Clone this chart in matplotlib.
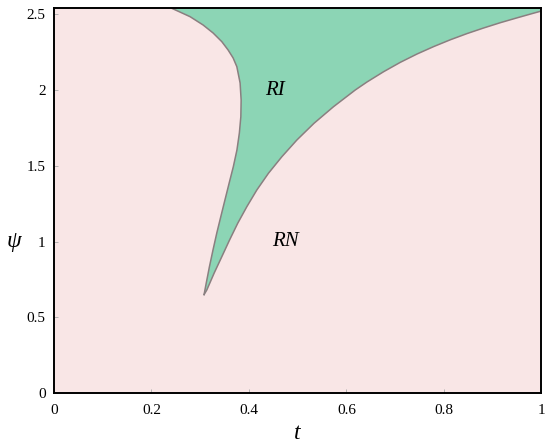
import matplotlib
matplotlib.use("Agg")
import matplotlib.pyplot as plt

# Left boundary of the RI region (from cusp upward)
left_t = [0.308, 0.3125, 0.3190, 0.3263, 0.3341, 0.3423, 0.3508, 0.3595, 0.3680, 0.3754,
          0.3804, 0.3834, 0.3840, 0.3819, 0.3752, 0.3676, 0.3573, 0.3444, 0.3265, 0.3060,
          0.2793, 0.2417]
left_psi = [0.650, 0.7266, 0.8342, 0.9445, 1.0568, 1.1645, 1.2748, 1.3871, 1.4947, 1.605,
            1.7173, 1.825, 1.9353, 2.0476, 2.1552, 2.2127, 2.2655, 2.3204, 2.3778, 2.4306,
            2.4855, 2.5409]

# Right boundary of the RI region (from cusp upward)
right_t = [0.308, 0.3136, 0.3285, 0.3444, 0.3603, 0.3770, 0.3957, 0.4162, 0.4400, 0.4676,
           0.4984, 0.5335, 0.5735, 0.6181, 0.6421, 0.6762, 0.7105, 0.7448, 0.7789, 0.8131,
           0.8474, 0.8815, 0.9158, 0.9501, 0.9842, 1.0]
right_psi = [0.650, 0.6803, 0.7906, 0.9003, 1.0106, 1.1209, 1.2305, 1.3408, 1.4511, 1.5608,
             1.6711, 1.7814, 1.8910, 2.0013, 2.054, 2.122, 2.184, 2.239, 2.288, 2.333,
             2.374, 2.411, 2.446, 2.478, 2.509, 2.523]

x_ticks = [0, 0.2, 0.4, 0.6, 0.8, 1]
x_labels = ["0", "0.2", "0.4", "0.6", "0.8", "1"]
y_ticks = [0, 0.5, 1, 1.5, 2, 2.5]
y_labels = ["0", "0.5", "1", "1.5", "2", "2.5"]

T_MAX = 1.0
PSI_MAX = 2.543

serif = ['Liberation Serif', 'DejaVu Serif']
plt.rcParams['font.family'] = serif

fig = plt.figure(figsize=(5.5, 4.43), dpi=100)
ax = fig.add_axes([0.098, 0.1129, 0.8865, 0.8691])

pink = '#f9e6e6'
green = '#8cd5b5'
edge = '#8a7f80'

ax.set_facecolor(pink)

poly_t = left_t + [T_MAX, T_MAX] + right_t[::-1]
poly_psi = left_psi + [PSI_MAX, right_psi[-1]] + right_psi[::-1]
ax.fill(poly_t, poly_psi, color=green, lw=0, zorder=1)
ax.plot(left_t, left_psi, color=edge, lw=1.1, zorder=2, solid_joinstyle='round')
ax.plot(right_t, right_psi, color=edge, lw=1.1, zorder=2, solid_joinstyle='round')

ax.set_xlim(0, T_MAX)
ax.set_ylim(0, PSI_MAX)
ax.set_xticks(x_ticks)
ax.set_xticklabels(x_labels)
ax.set_yticks(y_ticks)
ax.set_yticklabels(y_labels)
ax.tick_params(direction='in', length=3, width=0.6, color='#aaaaaa', labelsize=11)
ax.tick_params(axis='x', pad=8)
ax.tick_params(axis='y', pad=6)

for s in ax.spines.values():
    s.set_linewidth(1.4)
    s.set_color('black')
    s.set_zorder(5)

ax.set_xlabel('t', fontsize=17, fontstyle='italic', labelpad=4)
ax.set_ylabel('ψ', fontsize=17, fontstyle='italic', rotation=0, va='center', ha='center')
ax.yaxis.set_label_coords(-0.082, 0.394)

ax.text(0.454, 2.0, 'RI', fontsize=15, fontstyle='italic', ha='center', va='center', zorder=3)
ax.text(0.474, 1.0, 'RN', fontsize=15, fontstyle='italic', ha='center', va='center', zorder=3)

fig.savefig('out.png', dpi=100)
